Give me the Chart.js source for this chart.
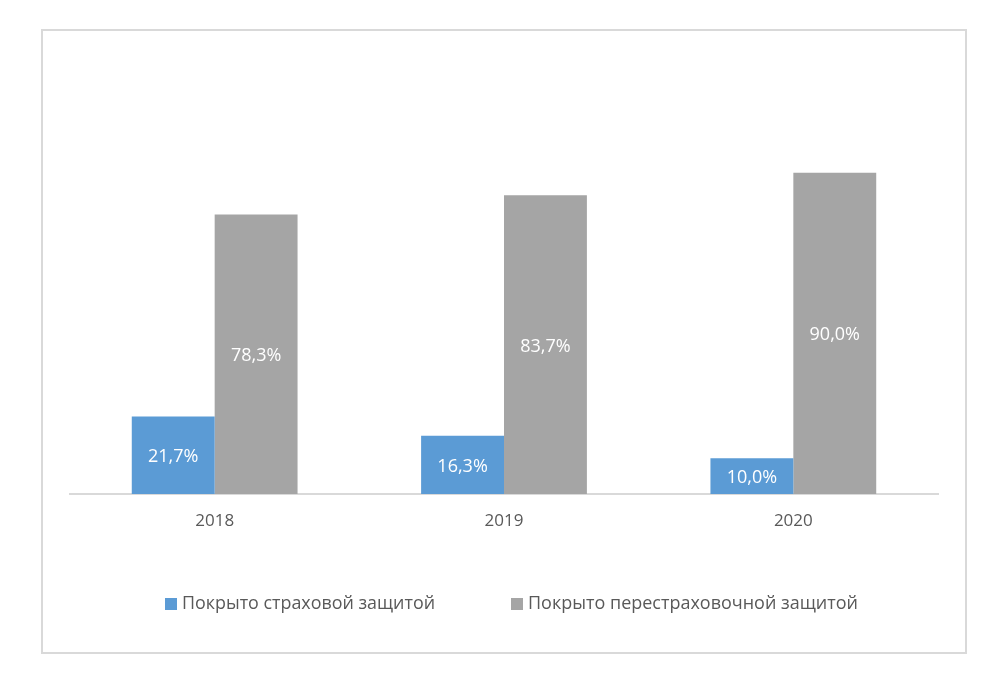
<!DOCTYPE html>
<html>
<head>
<meta charset="utf-8">
<script src="https://cdn.jsdelivr.net/npm/chart.js@4/dist/chart.umd.min.js"></script>
<style>
html,body{margin:0;padding:0;background:#fff;}
#wrap{position:relative;width:1004px;height:690px;}
</style>
</head>
<body>
<div id="wrap"><canvas id="c" width="1004" height="690"></canvas></div>
<script>
const categories = ['2018', '2019', '2020'];
const insuranceCover = [21.7, 16.3, 10.0];
const reinsuranceCover = [78.3, 83.7, 90.0];
const seriesNames = ['Покрыто страховой защитой', 'Покрыто перестраховочной защитой'];
const seriesColors = ['#5b9bd5', '#a5a5a5'];

const FONT = '"Open Sans", "Liberation Sans", Arial, sans-serif';
const TEXT_COLOR = '#595959';

const fmt = v => v.toFixed(1).replace('.', ',') + '%';

const frameAndLegend = {
  id: 'frameAndLegend',
  beforeDraw(chart) {
    const ctx = chart.ctx;
    ctx.save();
    ctx.fillStyle = '#fff';
    ctx.fillRect(0, 0, chart.width, chart.height);
    ctx.strokeStyle = '#d9d9d9';
    ctx.lineWidth = 2;
    ctx.strokeRect(42, 30, 924, 623);
    ctx.restore();
  },
  afterDraw(chart) {
    const ctx = chart.ctx;
    ctx.save();
    ctx.font = '18px ' + FONT;
    ctx.textBaseline = 'middle';
    ctx.textAlign = 'left';
    const items = [{x: 165, w: 253}, {x: 511, w: 330}];
    const y = 604;
    chart.data.datasets.forEach((ds, i) => {
      const bx = items[i].x;
      ctx.fillStyle = ds.backgroundColor;
      ctx.fillRect(bx, y - 6, 12, 12);
      ctx.fillStyle = TEXT_COLOR;
      const tw = ctx.measureText(ds.label).width;
      const sx = Math.min(1.15, Math.max(0.85, items[i].w / tw));
      ctx.save();
      ctx.translate(bx + 17, y);
      ctx.scale(sx, 1);
      ctx.fillText(ds.label, 0, 0);
      ctx.restore();
    });
    ctx.restore();
  }
};

const barLabels = {
  id: 'barLabels',
  afterDatasetsDraw(chart) {
    const ctx = chart.ctx;
    ctx.save();
    ctx.font = '18px ' + FONT;
    ctx.fillStyle = '#ffffff';
    ctx.textAlign = 'center';
    ctx.textBaseline = 'middle';
    chart.data.datasets.forEach((ds, di) => {
      const meta = chart.getDatasetMeta(di);
      meta.data.forEach((el, i) => {
        const p = el.getProps(['x', 'y', 'base'], true);
        ctx.fillText(fmt(ds.data[i]), p.x, (p.y + p.base) / 2 + 2);
      });
    });
    ctx.restore();
  }
};

new Chart(document.getElementById('c'), {
  type: 'bar',
  data: {
    labels: categories,
    datasets: [
      { label: seriesNames[0], data: insuranceCover, backgroundColor: seriesColors[0] },
      { label: seriesNames[1], data: reinsuranceCover, backgroundColor: seriesColors[1] }
    ]
  },
  options: {
    responsive: false,
    animation: false,
    devicePixelRatio: 1,
    layout: { padding: { left: 70, right: 66, top: 137, bottom: 156 } },
    datasets: { bar: { barPercentage: 1.0, categoryPercentage: 0.573 } },
    plugins: { legend: { display: false }, tooltip: { enabled: false } },
    scales: {
      x: {
        grid: { display: false, drawTicks: false },
        border: { display: true, color: '#d9d9d9', width: 2 },
        ticks: { color: TEXT_COLOR, font: { family: FONT, size: 17 }, padding: 17 },
        afterFit(scale) { scale.height = 40; }
      },
      y: { display: false, min: 0, max: 100 }
    }
  },
  plugins: [frameAndLegend, barLabels]
});
</script>
</body>
</html>
